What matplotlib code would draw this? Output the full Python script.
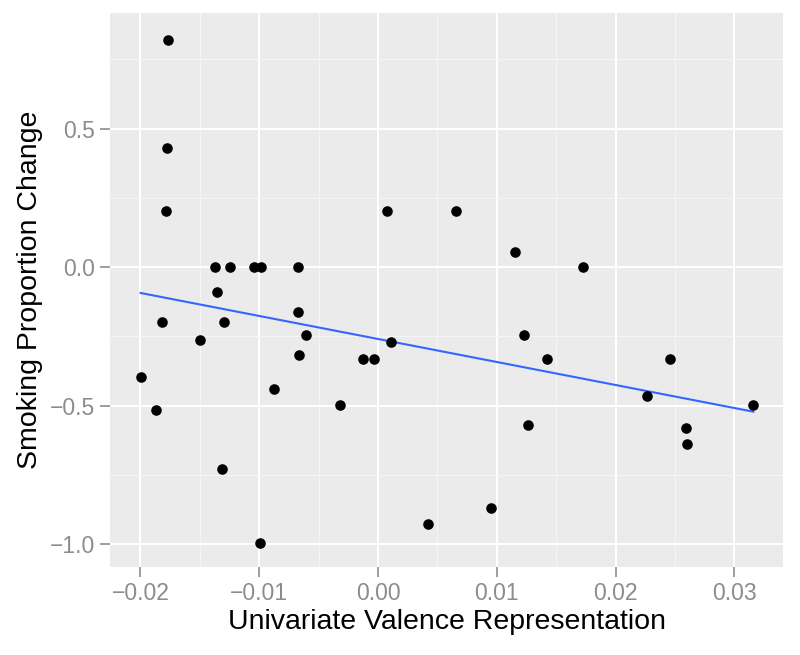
import matplotlib.pyplot as plt
import numpy as np

# valence representation (x) vs smoking proportion change (y)
valence = [
    -0.01768, -0.01773, -0.01782, 0.00073, -0.0137, -0.01249, -0.01044, -0.00985,
    -0.00673, -0.01358, -0.01816, -0.0130, -0.01498, -0.00673, -0.00606, -0.00662,
    -0.00129, -0.00031, 0.00112, -0.01998, -0.01869, -0.00875, -0.0032, -0.01311,
    -0.00993, 0.00421, 0.00657, 0.0115, 0.01723, 0.01229, 0.01425, 0.02458,
    0.02267, 0.03159, 0.0126, 0.02593, 0.02604, 0.00954,
]
smoking_change = [
    0.819, 0.431, 0.202, 0.202, 0.0, 0.0, 0.0, 0.0,
    0.0, -0.089, -0.197, -0.197, -0.264, -0.164, -0.247, -0.318,
    -0.331, -0.331, -0.270, -0.397, -0.518, -0.442, -0.498, -0.730,
    -0.996, -0.929, 0.202, 0.053, 0.0, -0.247, -0.331, -0.331,
    -0.464, -0.498, -0.569, -0.580, -0.640, -0.871,
]
x_ticks = [-0.02, -0.01, 0.00, 0.01, 0.02, 0.03]
y_ticks = [-1.0, -0.5, 0.0, 0.5]

plt.rcParams['font.family'] = ['Liberation Sans', 'DejaVu Sans']

fig = plt.figure(figsize=(8, 6.55), dpi=100)
# panel: left 110px, right 783px, top 13px, bottom 567px
ax = fig.add_axes([110 / 800, 88 / 655, 673 / 800, 554 / 655])

ax.set_facecolor('#EBEBEB')
for s in ax.spines.values():
    s.set_visible(False)

ax.set_xticks(x_ticks)
ax.set_xticklabels([f'{v:.2f}'.replace('-', '\u2212') for v in x_ticks])
ax.set_yticks(y_ticks)
ax.set_yticklabels([f'{v:.1f}'.replace('-', '\u2212') for v in y_ticks])
ax.set_xticks(list(np.array(x_ticks[:-1]) + 0.005), minor=True)
ax.set_yticks(list(np.array(y_ticks) + 0.25), minor=True)
ax.set_xlim(-0.02256, 0.03409)
ax.set_ylim(-1.083, 0.917)

ax.grid(which='major', color='white', linewidth=1.5)
ax.grid(which='minor', color='#F5F5F5', linewidth=0.8)
ax.set_axisbelow(True)
ax.tick_params(which='major', length=7, width=1.2, color='#8C8C8C',
               labelcolor='#8C8C8C', labelsize=16.5, pad=4)
ax.tick_params(which='minor', length=0)

# linear fit
x = np.array(valence)
y = np.array(smoking_change)
k, b = np.polyfit(x, y, 1)
xs = np.array([x.min(), x.max()])
ax.plot(xs, k * xs + b, color='#3366FF', linewidth=1.5, zorder=2)

ax.scatter(x, y, s=58, color='black', zorder=3, linewidths=0)

ax.set_xlabel('Univariate Valence Representation', fontsize=20.5, labelpad=3)
ax.set_ylabel('Smoking Proportion Change', fontsize=20.5, labelpad=5)

fig.savefig('out.png', dpi=100, facecolor='white')
